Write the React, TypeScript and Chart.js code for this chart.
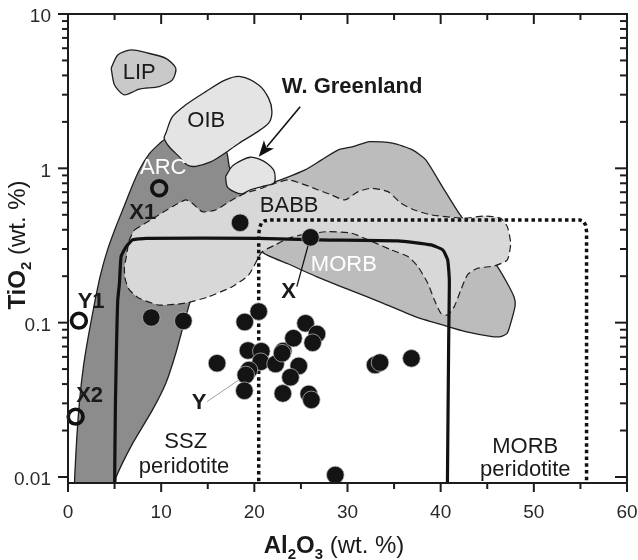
import React, { useEffect, useRef } from 'react';
import { Chart, registerables } from 'chart.js';

Chart.register(...registerables);

type P = [number, number];

// ---- axes ----
const X_MIN = 0;
const X_MAX = 60;
const Y_MIN = 0.00914;
const Y_MAX = 10;
const Y_FLOOR = 0.0085; // just below the axis (clipped)
const xTickLabels = [0, 10, 20, 30, 40, 50, 60];
const yTickLabels = [0.01, 0.1, 1, 10];

// ---- fields (Al2O3 wt.%, TiO2 wt.%) ----
const arcField: P[] = [
  [0.7, Y_FLOOR], [0.72, 0.01], [0.93, 0.0174], [1.25, 0.0316], [1.68, 0.0532], [2.21, 0.0832],
  [2.85, 0.134], [3.49, 0.204], [4.24, 0.296], [5.09, 0.411], [5.95, 0.554], [6.8, 0.746],
  [7.65, 0.976], [8.72, 1.24], [9.79, 1.44], [10.54, 1.55], [14.06, 1.32], [16.41, 1.32],
  [17.05, 1.26], [17.37, 1.0], [18.6, 0.85], [19.0, 0.72], [18.0, 0.5], [14.6, 0.165],
  [13.34, 0.147], [12.64, 0.109], [11.57, 0.0634], [10.5, 0.0405], [9.07, 0.0272],
  [6.94, 0.0165], [5.17, 0.01], [4.99, Y_FLOOR],
];

const babbField: P[] = [
  [22.25, 0.82], [23.32, 0.863], [25.45, 0.976], [27.22, 1.134], [29.01, 1.316], [30.58, 1.382],
  [32.35, 1.489], [34.85, 1.455], [36.98, 1.316], [38.4, 1.134], [40.18, 0.761], [41.96, 0.512],
  [46.09, 0.231], [47.15, 0.18], [47.87, 0.147], [48.0, 0.13], [47.69, 0.108], [47.15, 0.0854],
  [46.44, 0.0812], [45.52, 0.0812], [42.67, 0.0874], [40.18, 0.0966], [37.33, 0.109],
  [33.78, 0.134], [30.21, 0.163], [26.66, 0.199], [23.67, 0.24], [20.82, 0.288],
  [19.4, 0.463], [21.53, 0.703],
];

const morbField: P[] = [
  [7.12, 0.399], [9.44, 0.486], [11.21, 0.565], [12.64, 0.624], [13.34, 0.594], [14.41, 0.524],
  [15.84, 0.537], [17.62, 0.624], [19.05, 0.69], [20.82, 0.743], [22.25, 0.801], [23.67, 0.841],
  [25.45, 0.781], [26.87, 0.724], [28.29, 0.672], [29.72, 0.624], [31.14, 0.706], [32.56, 0.743],
  [34.34, 0.706], [35.76, 0.594], [37.19, 0.537], [38.97, 0.499], [42.53, 0.475], [44.67, 0.491],
  [46.44, 0.475], [47.15, 0.419], [47.51, 0.327], [47.15, 0.255], [45.74, 0.233], [43.95, 0.225],
  [42.88, 0.204], [42.17, 0.163], [41.46, 0.127], [40.75, 0.112], [40.03, 0.115], [39.33, 0.14],
  [38.62, 0.18], [37.55, 0.231], [36.48, 0.268], [34.7, 0.296], [32.21, 0.344], [30.43, 0.38],
  [27.94, 0.389], [25.09, 0.37], [23.67, 0.352], [22.25, 0.319], [20.82, 0.287], [19.4, 0.204],
  [17.62, 0.171], [15.06, 0.147], [12.64, 0.134], [9.79, 0.13], [7.65, 0.144], [6.59, 0.163],
  [6.16, 0.189], [6.05, 0.225], [6.27, 0.27], [6.59, 0.344],
];

const oibField: P[] = [
  [10.5, 1.69], [11.21, 2.16], [12.64, 2.58], [14.78, 3.14], [16.91, 3.74], [18.51, 3.93],
  [20.47, 3.47], [21.53, 2.85], [21.89, 2.33], [21.53, 1.96], [20.11, 1.69], [18.33, 1.45],
  [16.55, 1.22], [15.31, 1.1], [13.71, 1.03], [12.81, 1.05], [11.93, 1.19], [10.86, 1.38],
  [10.32, 1.57],
];

const lipField: P[] = [
  [4.63, 4.46], [5.34, 5.43], [6.77, 5.85], [8.37, 5.62], [10.5, 5.16], [11.57, 4.46],
  [11.21, 3.74], [9.79, 3.39], [7.65, 3.26], [6.05, 2.99], [4.99, 3.47],
];

const greenlandField: P[] = [
  [16.91, 0.883], [17.61, 1.03], [18.68, 1.13], [19.58, 1.18], [20.47, 1.15], [21.35, 1.08],
  [22.07, 0.977], [22.24, 0.863], [22.07, 0.8], [20.82, 0.761], [19.58, 0.725], [18.68, 0.683],
  [17.8, 0.706], [17.08, 0.761],
];

// ---- peridotite boundaries ----
const sszBoundary: P[] = [
  [5.0, Y_FLOOR], [5.09, 0.03], [5.23, 0.081], [5.34, 0.14], [5.52, 0.18], [5.7, 0.268],
  [6.23, 0.31], [6.94, 0.344], [8.37, 0.352], [20.47, 0.352], [26.87, 0.344], [35.41, 0.339],
  [38.97, 0.319], [40.22, 0.296], [40.75, 0.255], [40.93, 0.189], [40.86, 0.077], [40.72, Y_FLOOR],
];

const morbPeridotiteBoundary: P[] = [
  [20.47, Y_FLOOR], [20.47, 0.37], [20.55, 0.41], [20.75, 0.44], [21.1, 0.457], [21.7, 0.463],
  [54.9, 0.463], [55.3, 0.455], [55.55, 0.43], [55.66, 0.39], [55.66, Y_FLOOR],
];

// ---- samples ----
const peridotiteSamples: P[] = [
  [20.47, 0.118], [18.97, 0.101], [16.0, 0.0546], [19.32, 0.066], [20.75, 0.0653], [20.68, 0.0558],
  [19.43, 0.0493], [19.08, 0.0458], [18.93, 0.0362], [22.28, 0.054], [23.09, 0.0655], [22.98, 0.0634],
  [24.2, 0.0793], [25.5, 0.099], [26.72, 0.0845], [26.26, 0.0741], [24.77, 0.0524], [23.88, 0.0443],
  [23.06, 0.0348], [25.84, 0.0345], [26.12, 0.0316], [32.96, 0.0532], [33.49, 0.0551], [36.86, 0.0587],
  [28.69, 0.0103], [18.47, 0.444], [8.94, 0.108], [12.38, 0.1026], [26.02, 0.357],
];
const referenceSamples: P[] = [[9.79, 0.743], [1.17, 0.103], [0.82, 0.0246]];

const xLeader: P[] = [[24.56, 0.171], [25.98, 0.352]];
const yLeader: P[] = [[14.93, 0.0308], [18.33, 0.0425]];
const greenlandArrow: P[] = [[24.92, 2.51], [20.47, 1.19]];

// ---- text labels ----
const fieldLabelText = ['LIP', 'OIB', 'ARC', 'BABB', 'MORB', 'SSZ', 'peridotite', 'MORB', 'peridotite'];
const fieldLabelPos: P[] = [
  [7.65, 4.13], [14.84, 2.03], [10.22, 1.0], [23.74, 0.57], [29.61, 0.237],
  [12.64, 0.0169], [12.46, 0.01166], [49.08, 0.0157], [49.08, 0.0111],
];
const fieldLabelWhite = [false, false, true, false, true, false, false, false, false];
const sampleLabelText = ['W. Greenland', 'X1', 'X', 'Y1', 'X2', 'Y'];
const sampleLabelPos: P[] = [
  [30.5, 3.37], [8.02, 0.512], [23.67, 0.159], [2.48, 0.137], [2.32, 0.0335], [14.06, 0.03],
];

const FONT = '"Liberation Sans", Arial, Helvetica, sans-serif';

const pts = (a: P[]) => a.map(([x, y]) => ({ x, y }));
const closed = (a: P[]) => pts([...a, a[0]]);

function field(data: P[], fill: string, order: number, dashed = false, tension = 0.3) {
  return {
    data: closed(data),
    showLine: true,
    fill: 'shape',
    backgroundColor: fill,
    borderColor: '#1e1e1e',
    borderWidth: dashed ? 1.2 : 1.3,
    borderDash: dashed ? [7, 4] : [],
    borderJoinStyle: 'round',
    tension,
    pointRadius: 0,
    order,
  };
}

function line(data: P[], color: string, width: number, order: number, dash: number[] = [], tension = 0) {
  return {
    data: pts(data),
    showLine: true,
    fill: false,
    borderColor: color,
    borderWidth: width,
    borderDash: dash,
    borderCapStyle: 'butt',
    borderJoinStyle: 'round',
    tension,
    pointRadius: 0,
    order,
  };
}

const overlay = {
  id: 'overlay',
  afterDatasetsDraw(chart: any) {
    const { ctx, scales } = chart;
    const xs = scales.x;
    const ys = scales.y;
    const px = (p: P) => [xs.getPixelForValue(p[0]), ys.getPixelForValue(p[1])];
    ctx.save();
    // arrow to W. Greenland
    const [ax, ay] = px(greenlandArrow[0]);
    const [bx, by] = px(greenlandArrow[1]);
    const ang = Math.atan2(by - ay, bx - ax);
    const head = 16;
    ctx.strokeStyle = '#111';
    ctx.lineWidth = 1.6;
    ctx.beginPath();
    ctx.moveTo(ax, ay);
    ctx.lineTo(bx - Math.cos(ang) * head * 0.8, by - Math.sin(ang) * head * 0.8);
    ctx.stroke();
    ctx.fillStyle = '#111';
    ctx.beginPath();
    ctx.moveTo(bx, by);
    ctx.lineTo(bx - Math.cos(ang) * head + Math.sin(ang) * 6.5, by - Math.sin(ang) * head - Math.cos(ang) * 6.5);
    ctx.lineTo(bx - Math.cos(ang) * head * 0.75, by - Math.sin(ang) * head * 0.75);
    ctx.lineTo(bx - Math.cos(ang) * head - Math.sin(ang) * 6.5, by - Math.sin(ang) * head + Math.cos(ang) * 6.5);
    ctx.closePath();
    ctx.fill();

    ctx.textAlign = 'center';
    ctx.textBaseline = 'middle';
    fieldLabelText.forEach((t, i) => {
      const [x, y] = px(fieldLabelPos[i]);
      ctx.font = `22px ${FONT}`;
      ctx.fillStyle = fieldLabelWhite[i] ? '#ffffff' : '#1a1a1a';
      ctx.fillText(t, x, y);
    });
    sampleLabelText.forEach((t, i) => {
      const [x, y] = px(sampleLabelPos[i]);
      ctx.font = `bold 22px ${FONT}`;
      ctx.fillStyle = '#1a1a1a';
      ctx.fillText(t, x, y);
    });
    ctx.restore();
  },
  afterDraw(chart: any) {
    const { ctx, chartArea: a, scales } = chart;
    const xs = scales.x;
    const ys = scales.y;
    ctx.save();
    ctx.strokeStyle = '#1c1c1c';
    ctx.lineWidth = 2;
    ctx.strokeRect(a.left, a.top, a.right - a.left, a.bottom - a.top);
    const seg = (x1: number, y1: number, x2: number, y2: number) => {
      ctx.beginPath();
      ctx.moveTo(x1, y1);
      ctx.lineTo(x2, y2);
      ctx.stroke();
    };
    ctx.lineWidth = 2;
    for (let v = X_MIN; v <= X_MAX; v += 5) {
      const x = xs.getPixelForValue(v);
      const major = v % 10 === 0;
      seg(x, a.bottom, x, a.bottom + (major ? 9 : 6));
      if (v > X_MIN && v < X_MAX) seg(x, a.top, x, a.top + (major ? 10 : 6));
    }
    for (let e = -2; e <= 1; e++) {
      for (let m = 1; m <= 9; m++) {
        const v = m * Math.pow(10, e);
        if (v > Y_MAX * 1.0001) continue;
        const y = ys.getPixelForValue(v);
        const major = m === 1;
        seg(a.left - (major ? 10 : 6), y, a.left, y);
        seg(a.right - (major ? 12 : 7), y, a.right, y);
      }
    }
    ctx.fillStyle = '#2a2a2a';
    ctx.font = `19px ${FONT}`;
    ctx.textAlign = 'center';
    ctx.textBaseline = 'alphabetic';
    xTickLabels.forEach((v) => ctx.fillText(String(v), xs.getPixelForValue(v), 518));
    ctx.textAlign = 'right';
    ctx.textBaseline = 'middle';
    yTickLabels.forEach((v) => ctx.fillText(String(v), a.left - 17, ys.getPixelForValue(v) + 3));

    // axis titles with subscripts
    type Part = { t: string; bold: boolean; sub?: boolean };
    const drawTitle = (parts: Part[], cx: number, cy: number, rot: number) => {
      const font = (p: Part) => `${p.bold ? 'bold ' : ''}${p.sub ? 15 : 24}px ${FONT}`;
      let total = 0;
      parts.forEach((p) => { ctx.font = font(p); total += ctx.measureText(p.t).width; });
      ctx.save();
      ctx.translate(cx, cy);
      ctx.rotate(rot);
      ctx.textAlign = 'left';
      ctx.textBaseline = 'alphabetic';
      ctx.fillStyle = '#1a1a1a';
      let x = -total / 2;
      parts.forEach((p) => {
        ctx.font = font(p);
        ctx.fillText(p.t, x, p.sub ? 6 : 0);
        x += ctx.measureText(p.t).width;
      });
      ctx.restore();
    };
    drawTitle(
      [
        { t: 'Al', bold: true }, { t: '2', bold: true, sub: true }, { t: 'O', bold: true },
        { t: '3', bold: true, sub: true }, { t: ' (wt. %)', bold: false },
      ],
      334, 553, 0,
    );
    drawTitle(
      [{ t: 'TiO', bold: true }, { t: '2', bold: true, sub: true }, { t: ' (wt. %)', bold: false }],
      25, 245, -Math.PI / 2,
    );
    ctx.restore();
  },
};

export default function App() {
  const ref = useRef<HTMLCanvasElement>(null);
  useEffect(() => {
    if (!ref.current) return;
    const chart = new Chart(ref.current, {
      type: 'line',
      data: {
        datasets: [
          {
            data: pts(peridotiteSamples),
            showLine: false,
            pointRadius: 8.8,
            pointBackgroundColor: '#141414',
            pointBorderColor: 'rgba(190,190,190,0.9)',
            pointBorderWidth: 0.8,
            clip: false,
            order: 1,
          },
          {
            data: pts(referenceSamples),
            showLine: false,
            pointRadius: 7.4,
            pointBackgroundColor: 'rgba(0,0,0,0)',
            pointBorderColor: '#111',
            pointBorderWidth: 3.6,
            clip: false,
            order: 2,
          },
          line(xLeader, '#111', 1.3, 3),
          line(yLeader, '#a0a0a0', 1, 3),
          line(morbPeridotiteBoundary, '#111', 3.5, 4, [3.5, 3.2]),
          line(sszBoundary, '#111', 3.2, 5, [], 0.15),
          field(greenlandField, '#e4e4e4', 6),
          field(lipField, '#c9c9c9', 6, false, 0.25),
          field(oibField, '#e4e4e4', 6),
          field(morbField, '#d8d8d8', 7, true, 0.2),
          field(babbField, '#bcbcbc', 8, false, 0.2),
          field(arcField, '#8c8c8c', 9, false, 0.2),
        ] as any,
      },
      options: {
        animation: false,
        responsive: false,
        devicePixelRatio: 1,
        events: [],
        layout: { padding: { left: 68, right: 8, top: 14, bottom: 77 } },
        scales: {
          x: { type: 'linear', min: X_MIN, max: X_MAX, display: false },
          y: { type: 'logarithmic', min: Y_MIN, max: Y_MAX, display: false },
        },
        plugins: { legend: { display: false }, tooltip: { enabled: false } },
      },
      plugins: [overlay],
    } as any);
    return () => chart.destroy();
  }, []);
  return (
    <div style={{ position: 'absolute', left: 0, top: 0, width: 638, height: 560, background: '#fff' }}>
      <canvas ref={ref} width={638} height={560} style={{ display: 'block', width: 638, height: 560 }} />
    </div>
  );
}
